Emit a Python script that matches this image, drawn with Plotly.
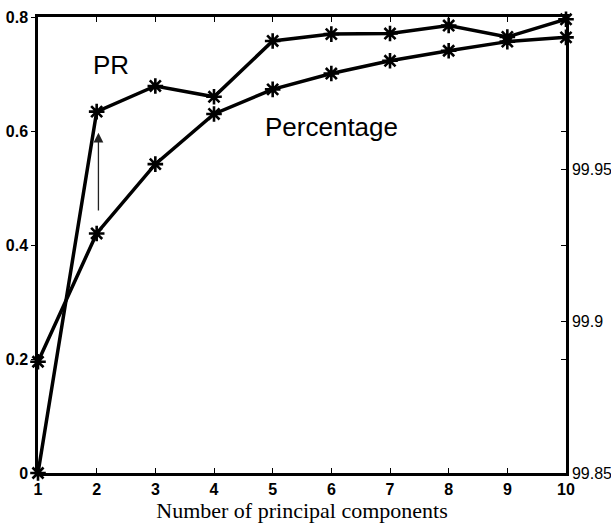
import plotly.graph_objects as go

components = [1, 2, 3, 4, 5, 6, 7, 8, 9, 10]
pr_values = [0.0, 0.634, 0.679, 0.660, 0.758, 0.770, 0.771, 0.785, 0.765, 0.796]
percentage_values = [99.8866, 99.9288, 99.9516, 99.9681, 99.9762, 99.9814,
                     99.9856, 99.9889, 99.9919, 99.9933]
left_ticks = [0, 0.2, 0.4, 0.6, 0.8]
right_ticks = [99.85, 99.8875, 99.9, 99.925, 99.95, 99.9625]
right_ticktext = ["99.85", "", "99.9", "", "99.95", ""]

fig = go.Figure()
marker = dict(symbol="asterisk-open", size=13, color="black", line=dict(width=2.6, color="black"))
fig.add_trace(go.Scatter(x=components, y=pr_values, mode="lines+markers", name="PR",
                         line=dict(color="black", width=3.5), marker=marker, yaxis="y",
                         cliponaxis=False))
fig.add_trace(go.Scatter(x=components, y=percentage_values, mode="lines+markers", name="Percentage",
                         line=dict(color="black", width=3.5), marker=marker, yaxis="y2",
                         cliponaxis=False))

fig.add_annotation(x=2.03, y=0.597, ax=2.03, ay=0.458, xref="x", yref="y", axref="x", ayref="y",
                   showarrow=True, arrowhead=2, arrowsize=1.5, arrowwidth=1.3, arrowcolor="#222", text="")
fig.add_annotation(x=2.25, y=0.716, xref="x", yref="y", text="PR", showarrow=False,
                   font=dict(family="Liberation Sans, Arial", size=26, color="black"))
fig.add_annotation(x=6.0, y=0.6075, xref="x", yref="y", text="Percentage", showarrow=False,
                   font=dict(family="Liberation Sans, Arial", size=26, color="black"))

fig.update_layout(
    width=611, height=525,
    margin=dict(l=38, r=45, t=17, b=52, autoexpand=False),
    paper_bgcolor="white", plot_bgcolor="white",
    showlegend=False,
    xaxis=dict(range=[1, 10], tickvals=components, ticks="inside", ticklen=5, tickwidth=1,
               tickcolor="black", showline=True, linewidth=2.5, linecolor="black", mirror="ticks",
               showgrid=False, zeroline=False, automargin=False,
               tickfont=dict(family="Liberation Sans, Arial", size=16, color="black", weight="bold"),
               title=dict(text="Number of principal components", standoff=3,
                          font=dict(family="Liberation Serif, Times New Roman", size=22, color="black"))),
    yaxis=dict(range=[0, 0.8], tickvals=left_ticks, ticktext=["0", "0.2", "0.4", "0.6", "0.8"],
               ticks="outside", ticklen=4, tickwidth=1, tickcolor="black",
               showline=True, linewidth=2.5, linecolor="black", mirror=True,
               showgrid=False, zeroline=False, automargin=False,
               tickfont=dict(family="Liberation Sans, Arial", size=16, color="black", weight="bold")),
    yaxis2=dict(range=[99.85, 100.0], overlaying="y", side="right", tickvals=right_ticks,
                ticktext=right_ticktext, ticks="inside", ticklen=5, tickwidth=1, tickcolor="black",
                showline=True, linewidth=2.5, linecolor="black", showgrid=False, zeroline=False,
                automargin=False,
                tickfont=dict(family="Liberation Sans, Arial", size=16, color="black")),
)

fig.write_html("out.html")
